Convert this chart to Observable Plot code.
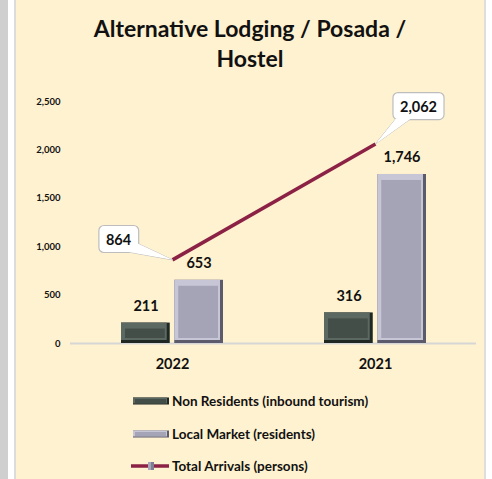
<!DOCTYPE html>
<html>
<head>
<meta charset="utf-8">
<script src="https://cdn.jsdelivr.net/npm/d3@7"></script>
<script src="https://cdn.jsdelivr.net/npm/@observablehq/plot@0.6"></script>
<style>
  html, body { margin: 0; padding: 0; width: 492px; height: 479px; overflow: hidden; background: #fff; font-family: Lato, "Open Sans", sans-serif; }
  .abs { position: absolute; }
  #title { left: 16px; width: 468px; top: 13px; text-align: center; font-weight: 700; font-size: 23px; line-height: 30px; color: #111; }
  .leg { position: absolute; left: 131px; height: 16px; display: flex; align-items: center; font-weight: 700; font-size: 13.5px; color: #111; white-space: nowrap; }
  .leg svg { margin-right: 3px; }
</style>
</head>
<body>
<div class="abs" style="left:0;top:0;width:8px;height:479px;background:#cfcfcf"></div>
<div class="abs" style="left:8px;top:0;width:6px;height:479px;background:#ffffff"></div>
<div class="abs" style="left:14px;top:0;width:2px;height:479px;background:#dcdcdc"></div>
<div class="abs" style="left:16px;top:0;width:468px;height:479px;background:#fff2d0"></div>
<div class="abs" style="left:484px;top:0;width:2px;height:479px;background:#dedede"></div>
<div id="title" class="abs"></div>
<div id="chart" class="abs" style="left:0;top:0"></div>
<div id="legend"></div>
<script>
// ---- data ----
const titleLines = ["Alternative Lodging / Posada /", "Hostel"];
const years = ["2022", "2021"];
const nonResidents = [211, 316];
const localMarket = [653, 1746];
const totalArrivals = [864, 2062];
const yTicks = [0, 500, 1000, 1500, 2000, 2500];
const seriesNames = ["Non Residents (inbound tourism)", "Local Market (residents)", "Total Arrivals (persons)"];

const data = years.map((year, i) => ({year, nr: nonResidents[i], lm: localMarket[i], total: totalArrivals[i]}));
const fmt = d3.format(",");

document.getElementById("title").innerHTML = titleLines.join("<br>");

const half = 53.25;
function bevel(y, side, [dark, light, face]) {
  const L = side === "l" ? 0 : half, R = side === "l" ? half : 0;
  return [
    Plot.barY(data, {x: "year", y, fill: dark, insetLeft: L, insetRight: R}),
    Plot.barY(data, {x: "year", y, fill: light, insetLeft: L, insetRight: R + 3, insetBottom: 3}),
    Plot.barY(data, {x: "year", y, fill: face, insetLeft: L + 4, insetRight: R + 5, insetTop: 6, insetBottom: 5})
  ];
}
const nrColors = ["#1f2723", "#5c6862", "#444e48"];
const lmColors = ["#5b5b6c", "#c6c6d6", "#a4a4b6"];
const lineColor = "#8b2245";

const callouts = [
  {i: 0, dx: -54, dy: -20, side: "right"},
  {i: 1, dx: 43, dy: -37, side: "left"}
];

const plot = Plot.plot({
  width: 492,
  height: 390,
  marginLeft: 70,
  marginRight: 16,
  marginTop: 101,
  marginBottom: 47,
  style: {background: "transparent", fontFamily: "Lato, 'Open Sans', sans-serif", overflow: "visible", color: "#111"},
  x: {domain: years, paddingInner: 0.5, paddingOuter: 0.25, axis: null},
  y: {domain: [0, 2500], axis: null},
  marks: [
    Plot.text(yTicks, {y: d => d, frameAnchor: "left", text: d => fmt(d), textAnchor: "end", dx: -10, fontSize: 9.5, fontWeight: 700, fill: "#111"}),
    Plot.ruleY([0], {stroke: "#d6d6d6", strokeWidth: 2}),
    ...bevel("nr", "l", nrColors),
    ...bevel("lm", "r", lmColors),
    Plot.text(years, {x: d => d, frameAnchor: "bottom", dy: 25, fontSize: 14.5, fontWeight: 700, fill: "#111"}),
    Plot.line(data, {x: "year", y: "total", stroke: lineColor, strokeWidth: 3.5, strokeLinecap: "butt"}),
    Plot.text(data, {x: "year", y: "nr", text: d => fmt(d.nr), dx: -26.5, dy: -17, fontSize: 14.5, fontWeight: 700, fill: "#111"}),
    Plot.text(data, {x: "year", y: "lm", text: d => fmt(d.lm), dx: 26.5, dy: -17, fontSize: 14.5, fontWeight: 700, fill: "#111"}),
    ...callouts.map(c => Plot.text([data[c.i]], {x: "year", y: "total", text: d => fmt(d.total), dx: c.dx, dy: c.dy, fontSize: 14.5, fontWeight: 700, fill: "#111"}))
  ]
});
document.getElementById("chart").appendChild(plot);

// callout boxes around the callout labels
callouts.forEach(c => {
  const label = fmt(data[c.i].total);
  const t = Array.from(plot.querySelectorAll("text")).find(el => el.textContent === label);
  if (!t) return;
  const bb = t.getBBox();
  const tr = t.getAttribute("transform") || "";
  const padX = 7, padY = 5;
  const left = bb.x - padX, right = bb.x + bb.width + padX;
  const top = bb.y - padY, bottom = bb.y + bb.height + padY;
  const px = -c.dx, py = -c.dy;
  let tri;
  if (c.side === "right") tri = [[right - 1, bottom - 9], [px, py], [right - 13, bottom - 1]];
  else tri = [[left + 3, bottom - 1], [px, py], [left + 18, bottom - 1]];
  const path = "M" + tri.map(p => p.join(",")).join("L") + "Z";
  const parent = t.parentNode;
  const mk = (tag) => { const el = document.createElementNS("http://www.w3.org/2000/svg", tag); parent.insertBefore(el, t); if (tr) el.setAttribute("transform", tr); return el; };
  const p1 = mk("path"); p1.setAttribute("d", path); p1.setAttribute("fill", "#fff"); p1.setAttribute("stroke", "#bdbdbd"); p1.setAttribute("stroke-width", "1");
  const r = mk("rect");
  r.setAttribute("x", left); r.setAttribute("y", top); r.setAttribute("width", right - left); r.setAttribute("height", bottom - top);
  r.setAttribute("rx", 5); r.setAttribute("fill", "#fff"); r.setAttribute("stroke", "#bdbdbd"); r.setAttribute("stroke-width", "1.2");
  const p2 = mk("path"); p2.setAttribute("d", path); p2.setAttribute("fill", "#fff"); p2.setAttribute("stroke", "none");
});

// legend
const legend = document.getElementById("legend");
const rows = [
  {name: seriesNames[0], top: 393, kind: "bar", colors: nrColors},
  {name: seriesNames[1], top: 426, kind: "bar", colors: lmColors},
  {name: seriesNames[2], top: 458, kind: "line"}
];
rows.forEach(r => {
  const div = document.createElement("div");
  div.className = "leg";
  div.style.top = r.top + "px";
  let sw;
  if (r.kind === "bar") {
    sw = `<svg width="38" height="16"><rect x="2" y="4.5" width="36" height="7" fill="${r.colors[0]}"/><rect x="2" y="4.5" width="34" height="6" fill="${r.colors[1]}"/><rect x="4" y="6" width="31" height="4" fill="${r.colors[2]}"/></svg>`;
  } else {
    sw = `<svg width="38" height="16"><line x1="0" x2="38" y1="8" y2="8" stroke="${lineColor}" stroke-width="3.5"/><rect x="17" y="4" width="6" height="8" fill="#7e7e93"/><rect x="17" y="4" width="3" height="8" fill="#a8a8bb"/></svg>`;
  }
  div.innerHTML = sw + `<span>${r.name}</span>`;
  legend.appendChild(div);
});
</script>
</body>
</html>
